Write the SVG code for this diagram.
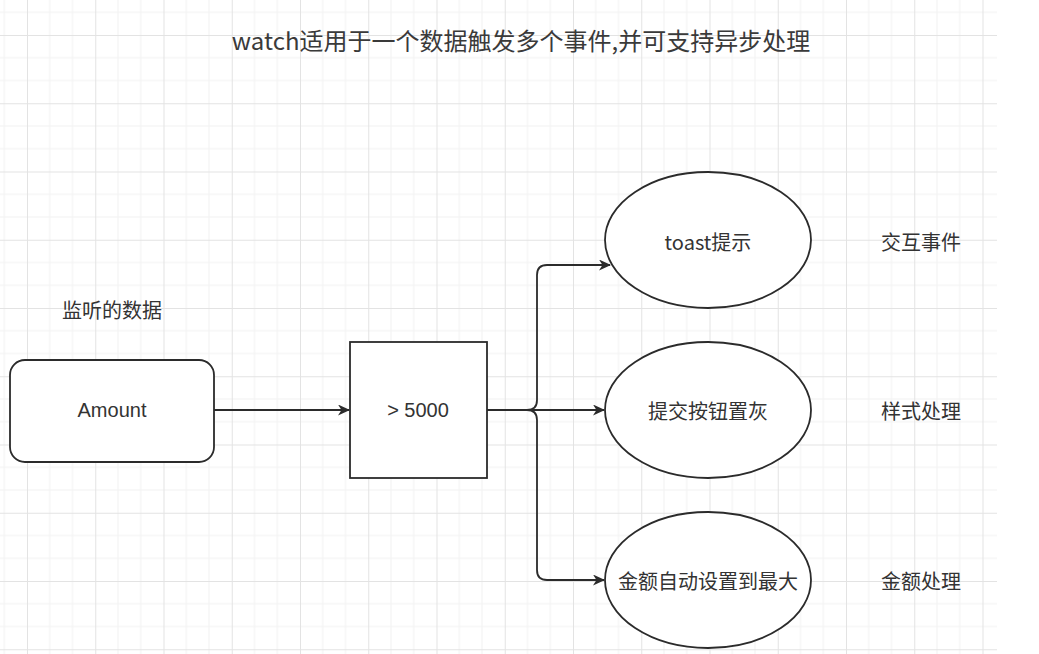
<svg xmlns="http://www.w3.org/2000/svg" width="1039" height="654" viewBox="0 0 1039 654">
  <defs>
    <style>
      .t { font-family: "Noto Sans CJK SC", "Liberation Sans", sans-serif; font-size: 20px; fill: #333333; text-anchor: middle; dominant-baseline: central; }
      .title { font-size: 24px; fill: #3a3a3a; }
      .tl { font-family: "Liberation Sans", "Noto Sans CJK SC", sans-serif; font-size: 20px; fill: #333333; text-anchor: middle; dominant-baseline: central; }
      .shape { fill: #ffffff; stroke: #2b2b2b; stroke-width: 1.8; }
      .edge { fill: none; stroke: #2b2b2b; stroke-width: 1.8; }
      .minor { stroke: #f1f1f1; stroke-width: 1; }
      .major { stroke: #e3e3e3; stroke-width: 1; }
    </style>
    <pattern id="grid" patternUnits="userSpaceOnUse" x="27" y="35" width="68.25" height="68.25">
      <line class="minor" x1="22.75" y1="0" x2="22.75" y2="68.25"/>
      <line class="minor" x1="45.5" y1="0" x2="45.5" y2="68.25"/>
      <line class="minor" x1="0" y1="22.75" x2="68.25" y2="22.75"/>
      <line class="minor" x1="0" y1="45.5" x2="68.25" y2="45.5"/>
      <line class="major" x1="0.5" y1="0" x2="0.5" y2="68.25"/>
      <line class="major" x1="0" y1="0.5" x2="68.25" y2="0.5"/>
    </pattern>
    <marker id="arrow" markerWidth="12" markerHeight="11" refX="11" refY="5.5" orient="auto" markerUnits="userSpaceOnUse">
      <path d="M0,0 L12,5.5 L0,11 L3.5,5.5 Z" fill="#2b2b2b"/>
    </marker>
  </defs>

  <rect x="0" y="0" width="1039" height="654" fill="#ffffff"/>
  <rect x="0" y="0" width="997" height="654" fill="url(#grid)"/>

  <text id="title" class="t title" x="521" y="39">watch适用于一个数据触发多个事件,并可支持异步处理</text>

  <g id="edges">
    <path class="edge" d="M214,410 L349,410" marker-end="url(#arrow)"/>
    <path class="edge" d="M487,410 L527,410 Q537,410 537,400 L537,275 Q537,265 547,265 L610,265" marker-end="url(#arrow)"/>
    <path class="edge" d="M487,410 L604,410" marker-end="url(#arrow)"/>
    <path class="edge" d="M487,410 L527,410 Q537,410 537,420 L537,570 Q537,580 547,580 L604,580" marker-end="url(#arrow)"/>
  </g>

  <g id="label-watched">
    <text class="t" x="112" y="309">监听的数据</text>
  </g>

  <g id="node-amount">
    <rect class="shape" x="10" y="360" width="204" height="102" rx="15" ry="15"/>
    <text class="tl" x="112" y="410">Amount</text>
  </g>

  <g id="node-condition">
    <rect class="shape" x="350" y="342" width="137" height="136"/>
    <text class="tl" x="418" y="410">&gt; 5000</text>
  </g>

  <g id="node-toast">
    <ellipse class="shape" cx="708" cy="240" rx="103" ry="68"/>
    <text class="t" x="708" y="241">toast提示</text>
  </g>

  <g id="node-disable">
    <ellipse class="shape" cx="708" cy="410" rx="103" ry="68"/>
    <text class="t" x="708" y="410">提交按钮置灰</text>
  </g>

  <g id="node-max">
    <ellipse class="shape" cx="708" cy="580" rx="103" ry="68"/>
    <text class="t" x="708" y="580">金额自动设置到最大</text>
  </g>

  <g id="label-interaction">
    <text class="t" x="921" y="241">交互事件</text>
  </g>
  <g id="label-style">
    <text class="t" x="921" y="410">样式处理</text>
  </g>
  <g id="label-amount">
    <text class="t" x="921" y="580">金额处理</text>
  </g>
</svg>
